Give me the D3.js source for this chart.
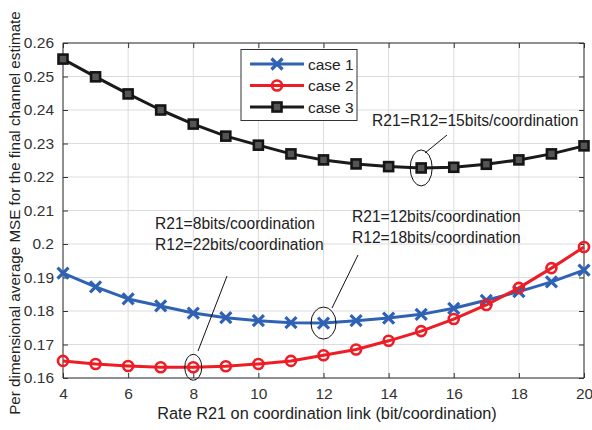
<!DOCTYPE html>
<html><head><meta charset="utf-8">
<script src="https://cdn.jsdelivr.net/npm/d3@7"></script>
<style>body{margin:0;background:#fff}svg{display:block}text{font-family:"Liberation Sans",Arial,sans-serif}</style>
</head><body><svg id="c" width="592" height="430"></svg>
<script>
const rates = [4,5,6,7,8,9,10,11,12,13,14,15,16,17,18,19,20];
const case1 = [0.1913,0.1872,0.1836,0.1815,0.1794,0.1780,0.1771,0.1765,0.1764,0.1771,0.1779,0.1790,0.1808,0.1832,0.1858,0.1887,0.1922];
const case2 = [0.1651,0.1642,0.1636,0.1632,0.1632,0.1635,0.1642,0.1651,0.1668,0.1685,0.1711,0.1740,0.1776,0.1818,0.1869,0.1928,0.1991];
const case3 = [0.2552,0.2499,0.2448,0.2400,0.2358,0.2322,0.2295,0.2269,0.2251,0.2239,0.2231,0.2227,0.2229,0.2238,0.2251,0.2269,0.2293];
const xTicks = [4,6,8,10,12,14,16,18,20];
const yTicks = [0.16,0.17,0.18,0.19,0.2,0.21,0.22,0.23,0.24,0.25,0.26];
const yTickLabels = ["0.16","0.17","0.18","0.19","0.2","0.21","0.22","0.23","0.24","0.25","0.26"];
const seriesNames = ["case 1","case 2","case 3"];
const notes = [
  {lines:["R21=R12=15bits/coordination"], rate:15, series:2},
  {lines:["R21=8bits/coordination","R12=22bits/coordination"], rate:8, series:1},
  {lines:["R21=12bits/coordination","R12=18bits/coordination"], rate:12, series:0}
];

const svg = d3.select("#c");
const L=63,R=584,T=43,B=378;
const x = d3.scaleLinear().domain([4,20]).range([L,R]);
const y = d3.scaleLinear().domain([0.16,0.26]).range([B,T]);
const gridC="#dcdcdc", axC="#333";

svg.append("g").selectAll("line").data(xTicks).join("line")
  .attr("x1",d=>x(d)).attr("x2",d=>x(d)).attr("y1",T).attr("y2",B).attr("stroke",gridC).attr("stroke-width",1);
svg.append("g").selectAll("line").data(yTicks).join("line")
  .attr("y1",d=>y(d)).attr("y2",d=>y(d)).attr("x1",L).attr("x2",R).attr("stroke",gridC).attr("stroke-width",1);

const fmt = (d)=>yTickLabels[yTicks.findIndex(v=>Math.abs(v-d)<1e-9)];
const ax = d3.axisBottom(x).tickValues(xTicks).tickSize(-5).tickPadding(10);
const ay = d3.axisLeft(y).tickValues(yTicks).tickFormat(fmt).tickSize(-5).tickPadding(9);
const axT = d3.axisTop(x).tickValues(xTicks).tickSize(-5).tickFormat("");
const ayR = d3.axisRight(y).tickValues(yTicks).tickSize(-5).tickFormat("");
function style(g){g.selectAll("path").attr("stroke",axC);g.selectAll("line").attr("stroke",axC);
  g.selectAll("text").attr("font-size",15.5).attr("fill","#333").attr("font-family","Liberation Sans, Arial, sans-serif");}
svg.append("g").attr("transform",`translate(0,${B})`).call(ax).call(style).call(g=>g.select(".domain").attr("d",`M${L},0H${R}`));
svg.append("g").attr("transform",`translate(${L},0)`).call(ay).call(style).call(g=>g.select(".domain").attr("d",`M0,${B}V${T}`));
svg.append("g").attr("transform",`translate(0,${T})`).call(axT).call(style).call(g=>g.select(".domain").attr("d",`M${L},0H${R}`));
svg.append("g").attr("transform",`translate(${R},0)`).call(ayR).call(style).call(g=>g.select(".domain").attr("d",`M0,${B}V${T}`));

svg.append("text").attr("x",327).attr("y",419).attr("text-anchor","middle").attr("font-size",16.3).attr("fill","#222")
  .text("Rate R21 on coordination link (bit/coordination)");
svg.append("text").attr("transform",`translate(20,213) rotate(-90)`).attr("text-anchor","middle").attr("font-size",15.2).attr("fill","#222")
  .text("Per dimensional average MSE for the final channel estimate");

const colors=["#2f62b4","#ee1c24","#1a1a1a"];
const data=[case1,case2,case3];
const line=d3.line().x((d,i)=>x(rates[i])).y(d=>y(d));

function marker(g,k,cx,cy){
  if(k===0){
    const s=5.5;
    g.append("path").attr("d",`M${cx-s},${cy-s}L${cx+s},${cy+s}M${cx-s},${cy+s}L${cx+s},${cy-s}`)
      .attr("stroke",colors[0]).attr("stroke-width",3.2).attr("fill","none");
  } else if(k===1){
    g.append("circle").attr("cx",cx).attr("cy",cy).attr("r",5).attr("fill","none").attr("stroke",colors[1]).attr("stroke-width",2.6);
  } else {
    g.append("rect").attr("x",cx-4.5).attr("y",cy-4.5).attr("width",9).attr("height",9).attr("fill","#555").attr("stroke","#151515").attr("stroke-width",2.6);
  }
}

[2,0,1].forEach(k=>{
  const g=svg.append("g");
  g.append("path").datum(data[k]).attr("d",line).attr("fill","none").attr("stroke",colors[k]).attr("stroke-width",3).attr("stroke-linejoin","round");
  data[k].forEach((v,i)=>marker(g,k,x(rates[i]),y(v)));
});

const noteGeom=[
  {tx:372,ty:126,lx1:447,ly1:135,lx2:425,ly2:153,rx:11,ry:18},
  {tx:155,ty:229,lx1:227,ly1:276,lx2:198,ly2:351,rx:8.5,ry:13},
  {tx:352,ty:222,lx1:358,ly1:255,lx2:332,ly2:308,rx:12.5,ry:16}
];
notes.forEach((n,j)=>{
  const gm=noteGeom[j];
  const cx=x(n.rate), cy=y(data[n.series][rates.indexOf(n.rate)]);
  svg.append("ellipse").attr("cx",cx).attr("cy",cy).attr("rx",gm.rx).attr("ry",gm.ry).attr("fill","none").attr("stroke","#111").attr("stroke-width",1);
  svg.append("line").attr("x1",gm.lx1).attr("y1",gm.ly1).attr("x2",gm.lx2).attr("y2",gm.ly2).attr("stroke","#111").attr("stroke-width",1);
  n.lines.forEach((t,i)=>svg.append("text").attr("x",gm.tx).attr("y",gm.ty+i*20.5).attr("font-size",15.6).attr("fill","#222").text(t));
});

const lg=svg.append("g");
lg.append("rect").attr("x",241).attr("y",49.5).attr("width",116).attr("height",71).attr("fill","#fff").attr("stroke","#333").attr("stroke-width",1);
seriesNames.forEach((s,i)=>{
  const yy=64+i*21.5;
  lg.append("line").attr("x1",250).attr("x2",304).attr("y1",yy).attr("y2",yy).attr("stroke",colors[i]).attr("stroke-width",3);
  marker(lg,i,277,yy);
  lg.append("text").attr("x",308).attr("y",yy+5.5).attr("font-size",15.5).attr("fill","#222").text(s);
});
</script></body></html>
